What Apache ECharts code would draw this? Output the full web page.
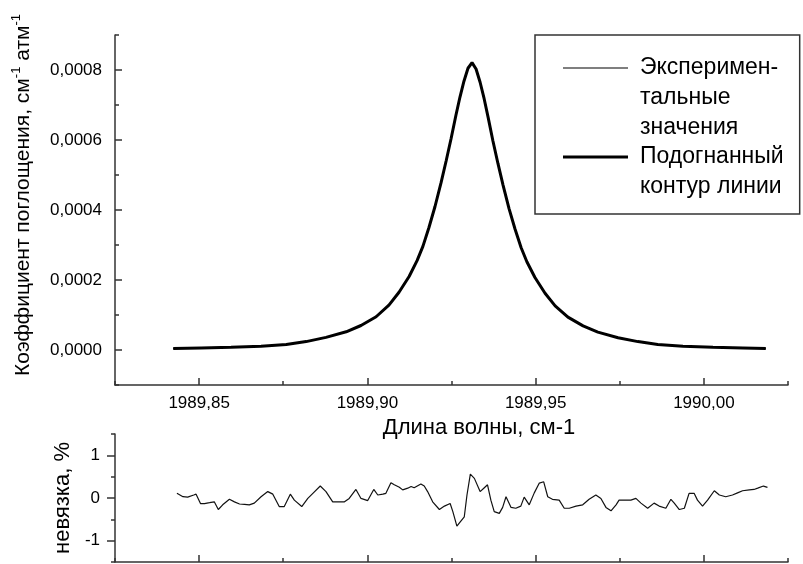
<!DOCTYPE html>
<html>
<head>
<meta charset="utf-8">
<script src="https://cdn.jsdelivr.net/npm/echarts@6/dist/echarts.min.js"></script>
<style>
  html, body { margin: 0; padding: 0; background: #fff; }
  #chart { width: 803px; height: 564px; }
</style>
</head>
<body>
<div id="chart"></div>
<script>
// wavenumber, cm-1
const fitX = [
  1989.8423, 1989.8506, 1989.8595, 1989.8684, 1989.8759, 1989.8818, 1989.8877, 1989.8937,
  1989.8981, 1989.9026, 1989.9064, 1989.9094, 1989.9124, 1989.9148, 1989.9165, 1989.9183,
  1989.9201, 1989.9219, 1989.9234, 1989.9249, 1989.9263, 1989.9275, 1989.9287, 1989.9299,
  1989.9311, 1989.9323, 1989.9335, 1989.9347, 1989.9359, 1989.9373, 1989.9388, 1989.9403,
  1989.9421, 1989.9439, 1989.9457, 1989.9474, 1989.9498, 1989.9528, 1989.9558, 1989.9596,
  1989.9641, 1989.9685, 1989.9745, 1989.9804, 1989.9863, 1989.9938, 1990.0027, 1990.0116,
  1990.0184
];
// подогнанный контур
const fitY = [
  0.000004, 0.000006, 0.000008, 0.000011, 0.000016, 0.000024, 0.000036, 0.000052,
  0.000070, 0.000095, 0.000128, 0.000165, 0.000210, 0.000256, 0.000296, 0.000350,
  0.000410, 0.000478, 0.000540, 0.000605, 0.000670, 0.000722, 0.000768, 0.000805,
  0.000821, 0.000803, 0.000765, 0.000718, 0.000664, 0.000598, 0.000533, 0.000472,
  0.000404, 0.000345, 0.000292, 0.000252, 0.000207, 0.000162, 0.000126, 0.000094,
  0.000069, 0.000051, 0.000035, 0.000024, 0.000016, 0.000011, 0.000008, 0.000006,
  0.000004
];
// экспериментальные значения
const expY = [
  0.0000041, 0.0000059, 0.0000081, 0.0000109, 0.0000161, 0.0000239, 0.0000361, 0.0000521,
  0.0000701, 0.0000951, 0.0001282, 0.0001652, 0.0002102, 0.0002558, 0.0002957, 0.0003497,
  0.0004096, 0.0004775, 0.0005396, 0.0006041, 0.0006688, 0.0007205, 0.0007683, 0.0008054,
  0.0008215, 0.0008034, 0.0007656, 0.0007183, 0.0006637, 0.0005976, 0.0005325, 0.0004714,
  0.0004036, 0.0003447, 0.0002918, 0.0002521, 0.0002071, 0.0001621, 0.0001261, 0.0000941,
  0.0000689, 0.0000511, 0.0000350, 0.0000239, 0.0000160, 0.0000110, 0.0000080, 0.0000060,
  0.0000040
];

// невязка, %
const residX = [
  1989.8434, 1989.8452, 1989.8466, 1989.8484, 1989.8491, 1989.8504, 1989.8516, 1989.8531,
  1989.8545, 1989.8557, 1989.8570, 1989.8590, 1989.8605, 1989.8620, 1989.8635, 1989.8649,
  1989.8664, 1989.8684, 1989.8704, 1989.8719, 1989.8738, 1989.8753, 1989.8771, 1989.8783,
  1989.8805, 1989.8823, 1989.8838, 1989.8860, 1989.8877, 1989.8897, 1989.8932, 1989.8946,
  1989.8966, 1989.8981, 1989.9001, 1989.9019, 1989.9031, 1989.9046, 1989.9055, 1989.9070,
  1989.9080, 1989.9095, 1989.9105, 1989.9120, 1989.9130, 1989.9139, 1989.9159, 1989.9169,
  1989.9179, 1989.9194, 1989.9214, 1989.9229, 1989.9246, 1989.9254, 1989.9266, 1989.9276,
  1989.9288, 1989.9296, 1989.9306, 1989.9318, 1989.9335, 1989.9346, 1989.9357, 1989.9367,
  1989.9377, 1989.9392, 1989.9402, 1989.9412, 1989.9427, 1989.9441, 1989.9456, 1989.9466,
  1989.9481, 1989.9496, 1989.9511, 1989.9524, 1989.9536, 1989.9550, 1989.9570, 1989.9585,
  1989.9600, 1989.9620, 1989.9640, 1989.9659, 1989.9679, 1989.9694, 1989.9709, 1989.9724,
  1989.9739, 1989.9748, 1989.9768, 1989.9783, 1989.9798, 1989.9813, 1989.9833, 1989.9852,
  1989.9867, 1989.9887, 1989.9902, 1989.9912, 1989.9927, 1989.9942, 1989.9956, 1989.9971,
  1989.9981, 1989.9996, 1990.0011, 1990.0031, 1990.0046, 1990.0065, 1990.0085, 1990.0100,
  1990.0115, 1990.0135, 1990.0149, 1990.0160, 1990.0177, 1990.0189
];
const residY = [
  0.11, 0.03, 0.02, 0.07, 0.09, -0.13, -0.13, -0.11,
  -0.09, -0.27, -0.16, -0.03, -0.09, -0.14, -0.15, -0.16,
  -0.12, 0.03, 0.15, 0.09, -0.20, -0.20, 0.09, -0.05,
  -0.20, -0.01, 0.11, 0.28, 0.15, -0.09, -0.09, -0.01,
  0.20, -0.01, -0.06, 0.20, 0.07, 0.09, 0.11, 0.36,
  0.31, 0.25, 0.19, 0.23, 0.27, 0.24, 0.33, 0.28,
  0.15, -0.09, -0.27, -0.19, -0.13, -0.32, -0.66, -0.56,
  -0.44, 0.07, 0.56, 0.46, 0.15, 0.23, 0.31, -0.05,
  -0.32, -0.36, -0.22, 0.03, -0.22, -0.24, -0.19, 0.02,
  -0.16, 0.12, 0.35, 0.38, 0.03, -0.03, -0.05, -0.24,
  -0.24, -0.19, -0.16, -0.03, 0.07, -0.01, -0.22, -0.30,
  -0.16, -0.05, -0.05, -0.05, -0.01, -0.12, -0.24, -0.12,
  -0.19, -0.24, -0.03, -0.12, -0.27, -0.24, 0.11, 0.11,
  -0.05, -0.19, -0.05, 0.17, 0.07, 0.03, 0.07, 0.12,
  0.17, 0.19, 0.20, 0.23, 0.28, 0.25
];

const xTickLabels = [1989.85, 1989.90, 1989.95, 1990.00];
const yTickLabels = [0, 0.0002, 0.0004, 0.0006, 0.0008];
const residTickLabels = [-1, 0, 1];

const seriesNames = ['Эксперимен-\nтальные\nзначения', 'Подогнанный\nконтур линии'];

const FONT = 'Liberation Sans, Arial, sans-serif';
const AXIS_COLOR = '#333';
const comma = (v, d) => v.toFixed(d).replace('.', ',');

const chart = echarts.init(document.getElementById('chart'));

const axisLine = { show: true, onZero: false, lineStyle: { color: AXIS_COLOR, width: 1.5 } };
const tickStyle = { color: AXIS_COLOR, width: 1.5 };

function xAxes(gridIndex, withLabels) {
  return [
    {
      type: 'value', gridIndex, position: 'bottom',
      min: 1989.825, max: 1990.025, interval: 0.025,
      axisLine,
      axisTick: { show: true, inside: true, length: 4, lineStyle: tickStyle },
      axisLabel: withLabels ? {
        show: true, customValues: xTickLabels, margin: 10,
        fontFamily: FONT, fontSize: 17, color: '#000',
        formatter: v => comma(v, 2)
      } : { show: false },
      splitLine: { show: false },
      name: withLabels ? 'Длина волны, см-1' : '',
      nameLocation: 'middle', nameGap: 30,
      nameTextStyle: { fontFamily: FONT, fontSize: 22, color: '#000', padding: [0, 0, 0, 55] }
    },
    {
      type: 'value', gridIndex, position: 'bottom',
      min: 1989.825, max: 1990.025,
      axisLine: { show: false, onZero: false },
      axisTick: { show: true, inside: true, length: 7, customValues: xTickLabels, lineStyle: tickStyle },
      axisLabel: { show: false },
      splitLine: { show: false }
    }
  ];
}

const option = {
  backgroundColor: '#fff',
  animation: false,
  grid: [
    { left: 115, top: 35, width: 673, height: 350 },
    { left: 115, top: 434, width: 673, height: 128 }
  ],
  xAxis: [...xAxes(0, true), ...xAxes(1, false)],
  yAxis: [
    {
      type: 'value', gridIndex: 0, position: 'left',
      min: -0.0001, max: 0.0009, interval: 0.0001,
      axisLine,
      axisTick: { show: true, inside: true, length: 4, lineStyle: tickStyle },
      axisLabel: {
        show: true, customValues: yTickLabels, margin: 13,
        fontFamily: FONT, fontSize: 17, color: '#000',
        formatter: v => comma(v, 4)
      },
      splitLine: { show: false },
      name: '{n|Коэффициент поглощения, см}{s|-1}{n| атм}{s|-1}',
      nameLocation: 'middle', nameGap: 81,
      nameTextStyle: {
        fontFamily: FONT, color: '#000', padding: [0, 0, 0, 30],
        rich: {
          n: { fontFamily: FONT, fontSize: 21, lineHeight: 24, color: '#000', verticalAlign: 'bottom' },
          s: { fontFamily: FONT, fontSize: 13, lineHeight: 12, color: '#000', verticalAlign: 'top' }
        }
      }
    },
    {
      type: 'value', gridIndex: 0, position: 'left',
      min: -0.0001, max: 0.0009,
      axisLine: { show: false, onZero: false },
      axisTick: { show: true, inside: true, length: 7, customValues: yTickLabels, lineStyle: tickStyle },
      axisLabel: { show: false },
      splitLine: { show: false }
    },
    {
      type: 'value', gridIndex: 1, position: 'left',
      min: -1.5, max: 1.5, interval: 0.5,
      axisLine,
      axisTick: { show: true, inside: false, length: 4, lineStyle: tickStyle },
      axisLabel: {
        show: true, customValues: residTickLabels, margin: 15,
        fontFamily: FONT, fontSize: 17, color: '#000'
      },
      splitLine: { show: false },
      name: 'невязка, %',
      nameLocation: 'middle', nameGap: 40,
      nameTextStyle: { fontFamily: FONT, fontSize: 22, color: '#000' }
    },
    {
      type: 'value', gridIndex: 1, position: 'left',
      min: -1.5, max: 1.5,
      axisLine: { show: false, onZero: false },
      axisTick: { show: true, inside: false, length: 8, customValues: residTickLabels, lineStyle: tickStyle },
      axisLabel: { show: false },
      splitLine: { show: false }
    }
  ],
  legend: [
    {
      // первый элемент, без рамки
      left: 563, top: 53, padding: 0, orient: 'vertical',
      itemWidth: 65, itemHeight: 90, symbolKeepAspect: false,
      selectedMode: false,
      itemStyle: { borderWidth: 0 },
      textStyle: { fontFamily: FONT, fontSize: 23, lineHeight: 30, color: '#000', padding: [0, 0, 0, 7] },
      data: [{
        name: seriesNames[0],
        icon: 'path://M0,0h0.01v0.01h-0.01z M0,14.5h65v1h-65z M0,89.99h0.01v0.01h-0.01z',
        itemStyle: { color: '#000', borderWidth: 0 }
      }]
    },
    {
      // второй элемент несёт рамку всей легенды
      left: 535, top: 35, padding: [107, 16, 12, 28], orient: 'vertical',
      itemWidth: 65, itemHeight: 60, symbolKeepAspect: false,
      selectedMode: false,
      borderColor: '#333', borderWidth: 1.5,
      itemStyle: { borderWidth: 0 },
      textStyle: { fontFamily: FONT, fontSize: 23, lineHeight: 30, color: '#000', padding: [0, 0, 0, 7] },
      data: [{
        name: seriesNames[1],
        icon: 'path://M0,0h0.01v0.01h-0.01z M0,13.5h65v3h-65z M0,59.99h0.01v0.01h-0.01z',
        itemStyle: { color: '#000', borderWidth: 0 }
      }]
    }
  ],
  series: [
    {
      name: seriesNames[0], type: 'line', xAxisIndex: 0, yAxisIndex: 0,
      showSymbol: false, symbol: 'none',
      lineStyle: { color: '#000', width: 1 },
      itemStyle: { color: '#000' },
      data: fitX.map((x, i) => [x, expY[i]])
    },
    {
      name: seriesNames[1], type: 'line', xAxisIndex: 0, yAxisIndex: 0,
      showSymbol: false, symbol: 'none',
      lineStyle: { color: '#000', width: 3 },
      itemStyle: { color: '#000' },
      data: fitX.map((x, i) => [x, fitY[i]])
    },
    {
      name: 'невязка', type: 'line', xAxisIndex: 2, yAxisIndex: 2,
      showSymbol: false, symbol: 'none',
      lineStyle: { color: '#111', width: 1.2 },
      data: residX.map((x, i) => [x, residY[i]])
    }
  ]
};

chart.setOption(option);
</script>
</body>
</html>
